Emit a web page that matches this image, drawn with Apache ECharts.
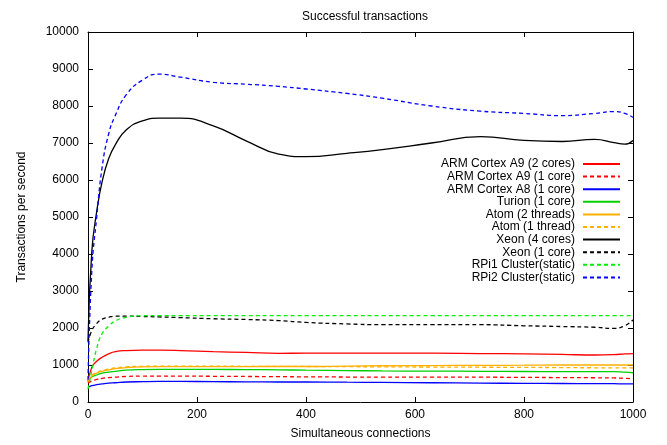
<!DOCTYPE html>
<html>
<head>
<meta charset="utf-8">
<script src="https://cdn.jsdelivr.net/npm/echarts@6/dist/echarts.min.js"></script>
<style>
  html, body { margin: 0; padding: 0; background: #fff; }
  #chart { width: 667px; height: 445px; }
</style>
</head>
<body>
<div id="chart"></div>
<script>
// Simultaneous connections at which throughput was sampled
const connections = [0, 7, 16, 26, 38, 50, 70, 100, 130, 170, 230, 290, 350, 400, 475, 540, 630, 720, 800, 870, 930, 965, 985, 1000];

// Transactions per second for each platform
const armA9Dual   = [540, 940, 1100, 1210, 1300, 1360, 1390, 1400, 1400, 1390, 1360, 1340, 1315, 1320, 1320, 1320, 1320, 1310, 1300, 1285, 1270, 1280, 1300, 1310];
const armA9Single = [510, 570, 610, 640, 660, 670, 690, 700, 700, 700, 695, 690, 685, 680, 675, 670, 670, 670, 665, 660, 655, 650, 640, 630];
const armA8Single = [400, 440, 470, 490, 510, 520, 540, 550, 555, 555, 550, 545, 540, 540, 535, 530, 520, 510, 505, 500, 495, 495, 490, 490];
const turion      = [590, 680, 730, 780, 810, 830, 860, 875, 880, 880, 880, 875, 870, 860, 850, 840, 835, 830, 825, 820, 820, 820, 805, 790];
const atomDual    = [550, 700, 780, 830, 870, 900, 930, 950, 955, 955, 955, 958, 960, 960, 970, 980, 985, 990, 995, 1000, 1000, 1000, 1000, 1000];
const atomSingle  = [560, 720, 800, 850, 890, 920, 950, 965, 970, 970, 968, 965, 962, 960, 955, 950, 945, 940, 935, 930, 925, 925, 920, 920];
const xeonQuad    = [1650, 4070, 5150, 5960, 6580, 6950, 7350, 7600, 7670, 7670, 7460, 7060, 6700, 6630, 6720, 6820, 7000, 7170, 7070, 7040, 7100, 7010, 6970, 7070];
const xeonSingle  = [1610, 1930, 2120, 2240, 2290, 2320, 2320, 2310, 2300, 2280, 2250, 2230, 2200, 2150, 2110, 2090, 2090, 2090, 2060, 2040, 2020, 1990, 2060, 2220];
const rpi1Cluster = [350, 850, 1450, 1850, 2050, 2190, 2290, 2330, 2335, 2335, 2335, 2335, 2335, 2335, 2335, 2335, 2335, 2335, 2335, 2335, 2335, 2335, 2335, 2335];
const rpi2Cluster = [600, 3540, 5000, 6350, 7250, 7740, 8300, 8700, 8860, 8780, 8640, 8590, 8530, 8460, 8340, 8210, 8000, 7860, 7800, 7740, 7800, 7850, 7800, 7690];

const seriesDefs = [
  { name: 'ARM Cortex A9 (2 cores)', data: armA9Dual,   color: '#ff0000', dash: 'solid' },
  { name: 'ARM Cortex A9 (1 core)',  data: armA9Single, color: '#ff0000', dash: 'dashed' },
  { name: 'ARM Cortex A8 (1 core)',  data: armA8Single, color: '#0000ff', dash: 'solid' },
  { name: 'Turion (1 core)',         data: turion,      color: '#00d000', dash: 'solid' },
  { name: 'Atom (2 threads)',        data: atomDual,    color: '#ffb000', dash: 'solid' },
  { name: 'Atom (1 thread)',         data: atomSingle,  color: '#ffb000', dash: 'dashed' },
  { name: 'Xeon (4 cores)',          data: xeonQuad,    color: '#000000', dash: 'solid' },
  { name: 'Xeon (1 core)',           data: xeonSingle,  color: '#000000', dash: 'dashed' },
  { name: 'RPi1 Cluster(static)',    data: rpi1Cluster, color: '#00ee00', dash: 'dashed' },
  { name: 'RPi2 Cluster(static)',    data: rpi2Cluster, color: '#0000ff', dash: 'dashed' }
];

const FONT = 'Liberation Sans, Arial, sans-serif';
const TXT = '#000';

function valueAxis(extra) {
  return Object.assign({
    type: 'value',
    axisLine: { show: true, onZero: false, lineStyle: { color: '#000', width: 1 } },
    axisTick: { show: true, inside: true, length: 5, lineStyle: { color: '#000' } },
    splitLine: { show: false },
    axisLabel: { color: TXT, fontFamily: FONT, fontSize: 12 }
  }, extra);
}

const plain = v => String(v);

const chart = echarts.init(document.getElementById('chart'), null, { renderer: 'canvas' });

chart.setOption({
  backgroundColor: '#fff',
  animation: false,
  title: {
    text: 'Successful transactions',
    left: 360, top: 6, textAlign: 'center',
    textStyle: { fontFamily: FONT, fontSize: 12, fontWeight: 'normal', color: TXT }
  },
  grid: { left: 88, right: 34, top: 32, bottom: 40 },
  legend: {
    orient: 'vertical',
    right: 41, top: 153,
    align: 'right',
    itemWidth: 37, itemHeight: 10, itemGap: 0.6,
    itemStyle: { color: 'transparent', borderWidth: 0, opacity: 0 },
    textStyle: { fontFamily: FONT, fontSize: 12, color: TXT, lineHeight: 12, padding: [0, 3, 0, 0] },
    data: seriesDefs.map(s => s.name)
  },
  xAxis: [
    valueAxis({
      min: 0, max: 1000, interval: 200, position: 'bottom',
      name: 'Simultaneous connections', nameLocation: 'middle', nameGap: 26,
      nameTextStyle: { fontFamily: FONT, fontSize: 12, color: TXT },
      axisLabel: { color: TXT, fontFamily: FONT, fontSize: 12, margin: 7, formatter: plain }
    }),
    valueAxis({
      min: 0, max: 1000, interval: 200, position: 'top',
      axisLabel: { show: false }
    })
  ],
  yAxis: [
    valueAxis({
      min: 0, max: 10000, interval: 1000, position: 'left',
      name: 'Transactions per second', nameLocation: 'middle', nameGap: 60,
      nameTextStyle: { fontFamily: FONT, fontSize: 12, color: TXT },
      axisLabel: { color: TXT, fontFamily: FONT, fontSize: 12, margin: 9, formatter: plain }
    }),
    valueAxis({
      min: 0, max: 10000, interval: 1000, position: 'right',
      axisLabel: { show: false }
    })
  ],
  series: seriesDefs.map(s => ({
    name: s.name,
    type: 'line',
    xAxisIndex: 0, yAxisIndex: 0,
    smooth: 0.5,
    symbol: 'none',
    color: s.color,
    lineStyle: { color: s.color, width: 1.3, type: s.dash === 'dashed' ? [4, 3] : 'solid' },
    data: connections.map((c, i) => [c, s.data[i]])
  }))
});
</script>
</body>
</html>
